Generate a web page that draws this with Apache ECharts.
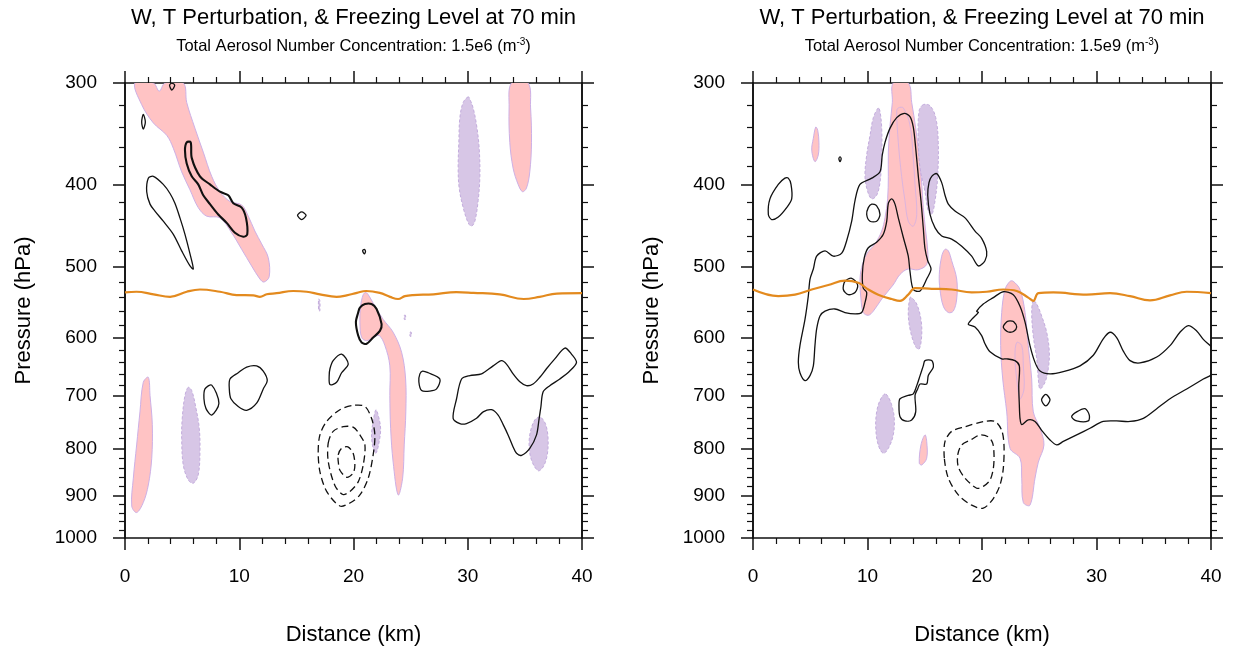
<!DOCTYPE html>
<html><head><meta charset="utf-8">
<script src="https://cdn.jsdelivr.net/npm/echarts@6/dist/echarts.min.js"></script>
<style>html,body{margin:0;padding:0;background:#fff}#c{width:1260px;height:651px}</style>
</head><body><div id="c"></div>
<script>
// ---------------- axis definitions ----------------
const PRESSURE_TICKS = [300, 400, 500, 600, 700, 800, 900, 1000];       // hPa (tick labels)
const TICK_HEIGHT_KM = [9.40, 7.33, 5.65, 4.19, 3.01, 1.94, 0.98, 0.11]; // sounding height of each level
const MINOR_STEP_HPA = 20;
const DIST_MIN = 0, DIST_MAX = 40, DIST_STEP = 10;
const TITLE = 'W, T Perturbation, & Freezing Level at 70 min';
const SUBTITLE_PREFIX = 'Total Aerosol Number Concentration: ';
const CONCENTRATIONS = ['1.5e6', '1.5e9'];

// ---------------- LEFT panel (1.5e6) : [distance km, pressure hPa] ----------------
const L_T_POS = [ // warm perturbation (pink)
  [[0.87,300],[2.48,300],[3.0,307],[3.5,300],[5.1,300],[5.4,317],[6.12,341],[6.85,365],[7.59,391],[8.31,408],[9.19,419],[10.21,423],[10.79,436],[11.37,454],[11.96,470],[12.54,488],[12.62,513],[12.16,520],[11.81,516],[11.08,499],[10.21,477],[9.33,456],[8.31,438],[7.15,436],[6.41,426],[5.69,406],[4.96,386],[4.23,361],[3.65,348],[2.48,336],[1.46,319]],
  [[33.83,300],[33.62,322],[33.68,355],[33.97,382],[34.41,400],[34.79,408],[35.14,404],[35.43,386],[35.58,355],[35.50,322],[35.28,300]],
  [[2.04,666],[1.60,675],[1.31,729],[1.02,793],[0.73,862],[0.59,924],[1.02,939],[1.60,916],[2.04,877],[2.34,820],[2.39,753],[2.19,699]],
  [[20.85,537],[20.62,553],[20.56,576],[20.71,599],[21.15,604],[21.72,599],[22.25,596],[22.75,612],[23.18,646],[23.18,699],[23.25,760],[23.47,828],[23.91,899],[24.30,862],[24.44,793],[24.58,729],[24.56,669],[24.21,623],[23.47,591],[22.6,572],[21.87,553],[21.37,539],[21.08,534]]
];
const L_T_POS_2 = [];
const L_T_NEG = [ // cool perturbation (purple)
  [[30.04,312],[29.60,317],[29.31,331],[29.22,355],[29.16,382],[29.25,404],[29.60,426],[30.04,444],[30.33,448],[30.62,442],[30.91,418],[31.06,391],[31.0,361],[30.77,338],[30.47,322],[30.18,314]],
  [[5.54,684],[5.25,699],[5.01,741],[4.96,780],[5.10,834],[5.54,866],[5.98,873],[6.41,855],[6.56,807],[6.50,760],[6.21,722],[5.84,690]],
  [[36.31,738],[35.87,744],[35.49,766],[35.37,793],[35.58,824],[36.16,846],[36.6,838],[36.95,814],[37.03,780],[36.83,753],[36.46,740]],
  [[21.96,725],[21.72,747],[21.58,773],[21.72,800],[21.96,810],[22.25,786],[22.37,760],[22.16,735]],
  [[16.95,543],[17.05,545],[17.05,560],[16.95,558]],
  [[24.45,566],[24.55,566],[24.55,572],[24.45,572]],
  [[24.95,591],[25.05,591],[25.05,597],[24.95,597]]
];
const L_W_POS = [ // updraft contours (solid)
  [[1.46,335],[1.6,328],[1.78,335],[1.6,342]],
  [[3.9,302],[4.1,300],[4.35,302],[4.1,306]],
  [[2.04,393],[2.48,391],[3.35,400],[3.94,410],[4.37,421],[4.81,438],[5.25,458],[5.69,483],[5.98,503],[5.69,499],[4.96,479],[4.23,458],[3.35,442],[2.62,430],[2.19,422],[1.90,408]],
  [[15.1,435],[15.46,431],[15.85,435],[15.46,440]],
  [[20.8,479],[20.95,477],[21.05,480],[20.95,483]],
  [[7.0,687],[7.59,680],[8.22,713],[7.59,735],[7.09,723],[6.91,705]],
  [[9.19,669],[9.91,658],[10.65,648],[11.52,646],[12.10,655],[12.45,672],[12.10,687],[11.52,713],[10.65,726],[9.91,719],[9.27,705],[9.13,687]],
  [[17.94,651],[18.22,637],[18.96,626],[19.54,643],[18.96,658],[18.52,675],[17.94,679],[17.87,664]],
  [[26.05,655],[26.54,658],[27.56,669],[27.27,687],[26.68,691],[25.96,690],[25.72,674],[25.81,660]],
  [[28.72,741],[29.02,705],[29.46,669],[30.18,663],[31.21,660],[32.22,646],[32.96,637],[33.39,643],[33.97,660],[34.56,674],[35.14,681],[35.72,678],[36.31,666],[36.89,651],[37.62,634],[38.5,616],[39.08,626],[39.52,640],[38.93,655],[38.06,669],[37.18,681],[36.6,692],[36.4,720],[36.25,741],[36.02,773],[35.43,800],[34.71,814],[34.27,810],[33.97,797],[33.53,773],[33.1,753],[32.66,735],[32.08,725],[31.35,729],[30.77,741],[29.89,751],[29.31,751]]
];
const L_W_POS_STRONG = [
  [[5.40,355],[5.75,355],[5.84,371],[6.56,391],[7.44,400],[8.31,408],[9.04,412],[9.48,421],[10.21,426],[10.59,438],[10.70,458],[10.35,461],[9.62,456],[8.90,444],[8.16,434],[7.44,422],[6.85,412],[6.41,400],[5.84,391],[5.40,377],[5.25,363]],
  [[20.56,555],[21.0,550],[21.58,550],[22.02,557],[22.46,579],[22.31,589],[21.72,599],[21.15,609],[20.71,607],[20.41,596],[20.21,576],[20.41,562]]
];
const L_W_NEG = [ // downdraft contours (dashed)
  [[16.91,807],[17.06,773],[17.65,747],[18.81,725],[19.97,717],[21.0,719],[21.58,741],[21.87,773],[21.72,813],[21.29,862],[20.56,899],[19.69,917],[18.81,924],[17.65,891],[17.06,848]],
  [[17.79,789],[18.22,766],[19.1,757],[19.97,758],[20.56,773],[21.0,793],[20.85,834],[20.41,870],[19.69,891],[19.07,898],[18.37,878],[17.79,827]],
  [[18.66,813],[18.96,800],[19.51,797],[19.97,810],[20.12,834],[19.97,851],[19.4,860],[18.81,845],[18.68,830]]
];
const L_FREEZE = [[0,534],[1.0,533],[2.5,536.5],[3.94,540],[5.4,533],[6.56,530],[8.31,533],[9.77,537.5],[11.23,538],[11.81,540],[12.4,536.5],[13.27,535],[14.73,532],[15.9,533],[17.06,536.5],[18.52,540],[19.4,538],[20.3,534.5],[21.1,532],[22.3,534.5],[23.2,540],[23.9,543],[24.5,539],[25.2,537.5],[27.0,536.5],[29.0,533.5],[30.5,534.5],[32.8,536.5],[34.9,543],[36.3,540],[37.8,535.5],[40,535]];

// ---------------- RIGHT panel (1.5e9) ----------------
const R_T_POS = [
  [[5.48,340],[5.27,351],[5.13,363],[5.41,375],[5.70,368],[5.76,355],[5.65,343]],
  [[12.25,300],[13.56,300],[13.86,317],[14.21,341],[14.50,368],[14.73,398],[14.87,426],[15.08,454],[15.26,479],[15.17,497],[14.41,504],[13.54,503],[12.84,510],[12.23,524],[11.24,543],[10.51,560],[10.07,566],[9.63,562],[9.43,543],[9.34,519],[9.49,501],[9.93,483],[10.66,470],[11.24,454],[11.53,438],[11.76,416],[11.82,391],[11.82,365],[11.97,338],[12.17,317]],
  [[16.77,477],[16.48,486],[16.27,510],[16.33,530],[16.62,553],[17.06,562],[17.49,560],[17.79,543],[17.79,516],[17.35,492],[17.06,479]],
  [[15.02,773],[14.67,793],[14.52,830],[14.73,834],[15.17,820],[15.17,786]],
  [[22.45,519],[22.01,530],[21.72,562],[21.63,612],[21.81,669],[22.16,729],[22.45,800],[23.32,820],[23.47,862],[23.61,916],[24.19,922],[24.63,862],[24.92,828],[25.41,793],[25.07,760],[24.48,729],[24.34,669],[24.04,612],[23.76,562],[23.32,530],[22.73,519]]
];
const R_T_POS_2 = [ // stronger warm level (outline only visible inside pink)
  [[12.55,325],[12.69,322],[13.13,322],[13.71,338],[14.0,371],[14.15,400],[14.30,434],[14.0,448],[13.56,442],[13.27,418],[12.98,391],[12.69,355]],
  [[23.03,607],[23.47,612],[23.61,646],[23.67,687],[23.32,705],[23.03,669],[22.88,630]]
];
const R_T_NEG = [
  [[10.94,322],[10.51,331],[10.22,348],[9.93,368],[9.78,391],[10.02,408],[10.37,416],[10.80,412],[11.09,398],[11.24,371],[11.24,341],[11.09,325]],
  [[14.87,319],[14.50,325],[14.44,355],[14.59,382],[15.02,408],[15.31,430],[15.61,434],[15.90,418],[16.13,391],[16.18,355],[15.96,331],[15.46,320]],
  [[13.71,541],[13.56,562],[13.71,586],[14.15,612],[14.50,618],[14.73,597],[14.67,572],[14.30,550],[13.86,541]],
  [[11.53,696],[11.09,708],[10.80,729],[10.72,760],[10.94,793],[11.38,810],[11.82,800],[12.25,773],[12.34,741],[12.11,716],[11.82,702]],
  [[24.48,545],[24.34,562],[24.48,597],[24.78,634],[24.92,669],[25.07,687],[25.50,675],[25.79,651],[25.88,623],[25.65,591],[25.21,567],[24.78,550]]
];
const R_W_POS = [
  [[3.08,393],[3.32,400],[3.38,416],[2.94,426],[2.21,437],[1.63,440],[1.34,434],[1.48,416],[2.21,400],[2.79,393]],
  [[10.37,422],[10.80,424],[11.09,434],[10.80,442],[10.22,442],[9.93,434],[10.07,426]],
  [[8.03,519],[8.62,515],[9.14,524],[8.91,534],[8.32,537],[7.89,530]],
  [[7.5,372],[7.6,370],[7.7,372],[7.6,375]],
  [[15.61,391],[16.04,388],[16.48,398],[16.77,412],[17.06,422],[17.64,430],[18.52,438],[19.39,454],[19.97,463],[20.41,480],[20.26,492],[19.68,499],[19.10,486],[18.23,473],[17.35,464],[16.48,460],[15.90,450],[15.46,434],[15.26,412],[15.37,398]],
  [[15.02,637],[15.61,637],[15.75,648],[15.31,663],[15.17,678],[14.59,678],[14.38,687],[14.15,699],[14.21,729],[13.86,744],[13.28,746],[12.84,738],[12.75,716],[12.84,705],[13.56,699],[14.0,696],[14.30,681],[14.59,663],[14.87,646]],
  [[22.2,575],[22.45,574],[22.75,575],[23.03,583],[22.75,590],[22.45,591],[22.2,590],[21.86,583]],
  [[25.2,707],[25.57,697],[25.94,707],[25.57,718]],
  [[27.83,738],[28.27,729],[29.0,723],[29.37,735],[29.28,746],[28.27,746]],
  [[4.83,539],[4.98,516],[5.27,503],[5.56,486],[6.29,479],[7.01,486],[7.75,482],[8.18,466],[8.62,442],[8.91,418],[9.34,400],[10.37,393],[11.09,386],[11.29,368],[11.53,355],[11.97,341],[12.55,331],[13.21,327],[13.71,330],[14.0,340],[14.21,361],[14.44,391],[14.67,418],[14.87,450],[15.02,476],[15.26,492],[15.55,503],[15.17,516],[14.59,532],[14.0,530],[13.71,506],[13.56,486],[13.13,462],[12.69,438],[12.40,422],[12.11,416],[11.82,421],[11.68,442],[11.38,458],[10.80,468],[10.07,475],[9.72,488],[9.55,510],[9.63,528],[9.93,534],[9.78,548],[9.49,562],[8.91,564],[8.03,562],[7.16,557],[6.29,560],[5.85,567],[5.56,586],[5.41,612],[5.27,646],[4.98,663],[4.54,672],[4.10,658],[3.96,640],[4.10,612],[4.54,572]],
  [[19.54,560],[20.11,550],[20.99,541],[21.86,533],[22.73,537],[23.32,553],[23.76,576],[24.19,612],[24.63,640],[25.07,655],[25.94,660],[27.10,656],[28.56,646],[29.72,628],[30.59,601],[31.18,591],[31.76,599],[32.34,621],[32.93,637],[33.80,641],[35.26,631],[36.42,612],[37.29,591],[38.02,581],[38.75,589],[39.33,602],[40.2,619],[40.2,658],[39.33,669],[37.88,687],[36.42,705],[35.26,723],[34.09,741],[32.93,747],[31.76,746],[30.59,747],[29.43,760],[28.27,773],[27.10,786],[26.52,793],[25.94,783],[25.21,764],[24.63,747],[24.04,744],[23.47,753],[23.32,741],[23.26,716],[23.21,681],[23.26,646],[22.88,637],[22.16,634],[21.72,634],[20.70,622],[20.26,609],[19.97,596],[19.39,583],[18.80,579],[19.10,572],[19.68,562]]
];
const R_W_POS_STRONG = [];
const R_W_NEG = [
  [[16.71,820],[16.77,786],[17.35,766],[18.52,757],[20.17,747],[21.14,747],[21.72,764],[21.92,793],[21.86,841],[21.57,877],[20.99,907],[20.11,929],[19.10,922],[17.93,899],[17.06,862]],
  [[17.88,813],[18.23,793],[19.10,782],[19.83,773],[20.55,777],[20.93,789],[21.05,813],[20.99,841],[20.70,866],[20.11,880],[19.54,884],[18.52,862],[17.93,838]]
];
const R_FREEZE = [[0,530],[2.21,539],[3.67,537],[5.13,530],[6.58,524],[8.03,518],[9.2,521],[10.07,530],[10.94,537],[12.11,543],[12.84,545.5],[13.56,537],[14.15,528],[15.61,529],[17.35,530],[19.10,534],[20.41,533],[21.86,530],[23.03,532],[24.04,541],[24.48,545.5],[24.92,535],[26.23,534],[29.14,537],[31.18,535],[32.93,539],[34.67,545],[36.42,538],[37.88,533],[40,535]];

// ---------------- helpers ----------------
function pToH(p) {
  const P = PRESSURE_TICKS, H = TICK_HEIGHT_KM;
  let i = 0;
  while (i < P.length - 2 && p > P[i + 1]) i++;
  const f = (Math.log(p) - Math.log(P[i])) / (Math.log(P[i + 1]) - Math.log(P[i]));
  return H[i] + f * (H[i + 1] - H[i]);
}
const MAJOR_H = TICK_HEIGHT_KM.slice();
const MINOR_H = [];
for (let p = PRESSURE_TICKS[0] + MINOR_STEP_HPA; p < PRESSURE_TICKS[PRESSURE_TICKS.length - 1]; p += MINOR_STEP_HPA) {
  if (p % 100 !== 0) MINOR_H.push(pToH(p));
}
function labelFor(v) {
  for (let i = 0; i < TICK_HEIGHT_KM.length; i++) if (Math.abs(TICK_HEIGHT_KM[i] - v) < 1e-6) return String(PRESSURE_TICKS[i]);
  return '';
}

const FONT = 'Liberation Sans, Arial, Helvetica, sans-serif';
const AX = '#111';
const GRIDS = [{left: 125, width: 457, top: 83, height: 457}, {left: 753, width: 458, top: 83, height: 457}];

const xAxes = [], yAxes = [];
GRIDS.forEach((g, gi) => {
  const base = {gridIndex: gi, type: 'value', min: DIST_MIN, max: DIST_MAX, interval: DIST_STEP,
    axisLine: {show: true, onZero: false, lineStyle: {color: AX, width: 1.6}},
    axisTick: {show: true, inside: false, length: 12, lineStyle: {color: AX, width: 1.5}},
    minorTick: {show: true, splitNumber: 5, length: 6, lineStyle: {color: AX, width: 1.2}},
    splitLine: {show: false}, minorSplitLine: {show: false}};
  xAxes.push(Object.assign({}, base, {position: 'bottom',
    name: 'Distance (km)', nameLocation: 'middle', nameGap: 86,
    nameTextStyle: {fontFamily: FONT, fontSize: 22, color: '#000'},
    axisLabel: {show: true, margin: 29, fontFamily: FONT, fontSize: 19, color: '#000'}}));
  xAxes.push(Object.assign({}, base, {position: 'top', axisLabel: {show: false}}));
  const yb = {gridIndex: gi, type: 'value', min: TICK_HEIGHT_KM[TICK_HEIGHT_KM.length - 1], max: TICK_HEIGHT_KM[0],
    axisLine: {show: true, onZero: false, lineStyle: {color: AX, width: 1.6}},
    splitLine: {show: false}};
  yAxes.push(Object.assign({}, yb, {position: 'left',
    name: 'Pressure (hPa)', nameLocation: 'middle', nameGap: 90,
    nameTextStyle: {fontFamily: FONT, fontSize: 22, color: '#000'},
    axisTick: {show: true, length: 12, customValues: MAJOR_H, lineStyle: {color: AX, width: 1.5}},
    axisLabel: {show: true, margin: 28, customValues: MAJOR_H, formatter: labelFor, fontFamily: FONT, fontSize: 19, color: '#000'}}));
  yAxes.push(Object.assign({}, yb, {position: 'left',
    axisTick: {show: true, length: 6, customValues: MINOR_H, lineStyle: {color: AX, width: 1.2}},
    axisLabel: {show: false}}));
  yAxes.push(Object.assign({}, yb, {position: 'right',
    axisTick: {show: true, length: 12, customValues: MAJOR_H, lineStyle: {color: AX, width: 1.5}},
    axisLabel: {show: false}}));
  yAxes.push(Object.assign({}, yb, {position: 'right',
    axisTick: {show: true, length: 6, customValues: MINOR_H, lineStyle: {color: AX, width: 1.2}},
    axisLabel: {show: false}}));
});

function shapeSeries(shapes, gi, style, smooth) {
  return {
    type: 'custom', xAxisIndex: gi * 2, yAxisIndex: gi * 4, clip: true, silent: true, animation: false,
    data: shapes.map((s, i) => [s[0][0], pToH(s[0][1]), i]),
    renderItem: (params, api) => {
      const s = shapes[params.dataIndex];
      const pts = s.map(q => api.coord([q[0], pToH(q[1])]));
      return {type: 'polygon', shape: {points: pts, smooth: smooth}, style: Object.assign({}, style)};
    }
  };
}
const PINK = {fill: '#ffc3c4', stroke: '#cdb0e6', lineWidth: 1};
const PINK2 = {fill: '#ffc0c2', stroke: '#dcb4de', lineWidth: 1};
const PURPLE = {fill: '#d7c6e6', stroke: '#c3acdd', lineWidth: 1, lineDash: [3, 2]};
const SOLID = {fill: 'none', stroke: '#111', lineWidth: 1.3};
const STRONG = {fill: 'none', stroke: '#111', lineWidth: 2.1};
const DASHED = {fill: 'none', stroke: '#111', lineWidth: 1.3, lineDash: [7, 4]};

function freezeSeries(pts, gi) {
  return {type: 'line', xAxisIndex: gi * 2, yAxisIndex: gi * 4, symbol: 'none', smooth: 0.4, silent: true, animation: false,
    data: pts.map(q => [q[0], pToH(q[1])]), lineStyle: {color: '#e38a1e', width: 2.2}, z: 5};
}

const panels = [
  {t_pos: L_T_POS, t_pos2: L_T_POS_2, t_neg: L_T_NEG, w_pos: L_W_POS, w_strong: L_W_POS_STRONG, w_neg: L_W_NEG, freeze: L_FREEZE},
  {t_pos: R_T_POS, t_pos2: R_T_POS_2, t_neg: R_T_NEG, w_pos: R_W_POS, w_strong: R_W_POS_STRONG, w_neg: R_W_NEG, freeze: R_FREEZE}
];
const series = [];
panels.forEach((pn, gi) => {
  series.push(shapeSeries(pn.t_pos, gi, PINK, 0.35));
  series.push(shapeSeries(pn.t_pos2, gi, PINK2, 0.35));
  series.push(shapeSeries(pn.t_neg, gi, PURPLE, 0.35));
  series.push(shapeSeries(pn.w_pos, gi, SOLID, 0.3));
  series.push(shapeSeries(pn.w_strong, gi, STRONG, 0.3));
  series.push(shapeSeries(pn.w_neg, gi, DASHED, 0.3));
  series.push(freezeSeries(pn.freeze, gi));
});

const titles = [];
GRIDS.forEach((g, gi) => {
  const cx = g.left + g.width / 2;
  titles.push({text: TITLE, left: cx, top: 7, textAlign: 'center', padding: 0,
    textStyle: {fontFamily: FONT, fontSize: 22, fontWeight: 'normal', color: '#000'}});
  titles.push({text: '{a|' + SUBTITLE_PREFIX + CONCENTRATIONS[gi] + ' (m}{s|-3}{a|)}', left: cx, top: 37, textAlign: 'center', padding: 0,
    textStyle: {fontWeight: 'normal', rich: {
      a: {fontFamily: FONT, fontSize: 16.5, fontWeight: 'normal', color: '#000'},
      s: {fontFamily: FONT, fontSize: 10, fontWeight: 'normal', color: '#000', padding: [0, 0, 9, 0]}}}});
});

const chart = echarts.init(document.getElementById('c'), null, {renderer: 'canvas', width: 1260, height: 651});
chart.setOption({
  animation: false, backgroundColor: '#fff',
  title: titles,
  grid: GRIDS.map(g => Object.assign({containLabel: false}, g)),
  xAxis: xAxes, yAxis: yAxes, series: series
});
</script></body></html>
